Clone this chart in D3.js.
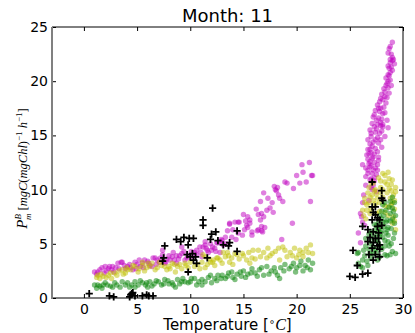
<!DOCTYPE html>
<html>
<head>
<meta charset="utf-8">
<script src="https://cdn.jsdelivr.net/npm/d3@7"></script>
<style>
  body { margin: 0; background: #fff; }
  text { font-family: "DejaVu Sans", sans-serif; }
</style>
</head>
<body>
<svg id="chart"></svg>
<script>
//chart values: [temperature, P_m^B]
const titleText = "Month: 11";
const xTicks = [0, 5, 10, 15, 20, 25, 30];
const yTicks = [0, 5, 10, 15, 20, 25];

const magenta = [
  [1.0,2.4],[1.3,2.4],[1.5,2.6],[1.7,2.8],[2.0,2.9],[2.1,2.5],[2.3,2.7],[2.6,2.6],[2.7,2.9],[3.0,2.8],
  [3.2,3.2],[3.5,3.3],[3.6,3.3],[3.8,3.0],[4.1,2.9],[4.3,3.1],[4.6,2.6],[4.8,3.3],[5.0,3.1],[5.3,2.9],
  [5.5,3.2],[5.7,3.5],[6.0,3.4],[6.2,3.0],[6.5,3.7],[6.7,3.7],[6.8,3.1],[7.1,3.3],[7.4,4.0],[7.4,4.4],
  [7.6,3.2],[7.8,3.6],[8.0,3.9],[8.3,3.8],[8.4,4.2],[8.7,3.2],[8.7,3.9],[8.9,3.6],[9.2,4.1],[9.2,4.7],
  [9.5,3.5],[9.8,3.9],[10.1,4.3],[10.4,4.2],[10.6,4.0],[10.9,4.7],[11.1,3.8],[11.2,4.7],[11.4,4.9],[11.4,5.2],
  [11.6,4.4],[11.7,4.2],[12.0,4.4],[12.1,4.7],[12.3,4.6],[12.5,5.1],[12.6,5.1],[12.8,4.2],[12.8,5.2],[12.9,5.4],
  [13.1,4.9],[13.3,5.6],[13.5,6.2],[13.7,6.8],[13.7,6.9],[13.9,5.6],[14.2,7.0],[14.5,7.0],[14.5,6.0],[14.6,7.0],
  [14.9,5.8],[15.0,7.7],[15.3,6.7],[15.4,7.5],[15.4,6.5],[15.6,7.2],[15.6,6.9],[15.8,6.1],[15.8,5.8],[16.2,8.2],
  [16.3,6.2],[16.4,7.7],[16.4,6.3],[16.6,8.9],[16.6,7.2],[16.7,6.6],[16.7,6.2],[16.7,7.8],[16.8,6.1],[16.9,9.7],
  [16.9,7.5],[17.0,6.5],[17.2,8.1],[17.3,9.2],[17.5,8.3],[17.7,8.8],[17.8,7.9],[17.9,10.3],[18.0,10.0],[18.1,9.9],
  [18.2,10.2],[18.3,9.5],[18.4,9.2],[18.6,5.4],[18.7,8.9],[18.9,10.7],[19.1,10.6],[19.6,6.9],[19.7,10.1],[20.0,11.3],
  [20.3,10.6],[20.5,12.3],[20.6,11.6],[20.9,10.7],[21.2,12.5],[21.3,8.9],[21.4,11.3],[21.5,11.3],
  [1.2,2.2],[1.9,2.3],[2.4,2.9],[2.8,2.4],[3.3,2.7],[3.9,2.7],[4.4,2.8],[4.9,2.7],[5.2,3.5],[5.6,2.8],
  [6.1,3.2],[6.4,2.9],[6.9,3.5],[7.2,3.7],[7.7,3.3],[8.1,3.5],[8.5,3.5],[9.0,3.9],[9.4,4.3],[9.7,3.7],
  [10.2,3.8],[10.6,4.4],[11.0,4.2],[11.5,4.6],[11.9,5.0],[12.4,4.3],[13.0,5.3],[13.4,5.0],[14.0,6.3],[14.3,5.4],
  [15.1,6.3],[15.2,7.1],
  [26.0,5.1],[25.8,6.0],[26.4,6.7],[26.2,7.0],[26.1,7.5],[26.0,7.8],[26.2,8.8],[26.9,10.9],[27.2,10.4],[27.1,10.0],
  [27.5,9.8],[26.7,11.5],[27.1,11.5],[27.6,11.8],[27.3,11.1],[26.7,11.8],[26.2,12.3],[26.9,12.1],[27.6,12.3],[27.2,13.0],
  [26.7,12.8],[26.7,13.7],[27.1,12.9],[27.7,12.7],[26.6,13.2],[26.9,13.7],[27.6,13.5],[27.2,14.4],[26.7,14.6],[27.7,14.3],
  [28.0,13.9],[26.9,15.5],[27.4,15.3],[27.8,15.2],[28.3,14.9],[27.1,16.1],[27.6,16.0],[28.1,15.8],[28.6,15.7],[27.2,16.7],
  [27.7,16.6],[28.5,16.4],[27.4,17.3],[27.8,17.2],[28.3,17.1],[27.6,17.8],[27.8,18.1],[28.1,18.3],[28.5,18.5],[28.3,19.0],
  [28.6,19.4],[28.5,19.8],[28.8,20.1],[28.6,20.6],[29.0,21.0],[28.8,21.7],[29.1,22.0],[29.0,22.2],[28.6,22.6],[28.8,23.2],
  [29.0,23.6],[27.0,10.2],[27.3,10.8],[27.5,11.4],[26.8,12.4],[27.4,12.0],[27.0,13.4],[27.4,13.8],[27.6,14.8],[27.0,14.9],
  [27.9,15.9],[28.0,16.5],[27.9,17.5],[28.2,17.6],[28.4,18.0],[28.0,18.8],[28.7,18.9],[28.9,19.6],[28.7,20.5],[28.9,21.3],
  [28.7,21.2],[29.2,21.6],[28.9,22.5],
  [26.3,9.5],[26.5,10.4],[26.8,9.0],[27.0,11.0],[26.5,11.2],[27.2,11.8],[26.9,12.6],[27.3,12.5],[27.0,12.2],[26.5,12.0],
  [27.3,13.3],[26.8,13.3],[27.1,14.0],[27.4,14.6],[26.9,14.2],[27.3,15.8],[27.0,15.2],[27.5,15.6],[28.0,15.4],[27.5,16.4],
  [27.9,16.2],[27.3,16.9],[27.7,17.5],[28.1,17.0],[27.9,18.4],[28.3,18.6],[28.2,19.3],[28.4,19.6],[28.6,20.0],[28.4,20.3],
  [28.8,20.8],[28.6,21.4],[29.0,21.9],[28.8,22.0],[28.7,23.0],[27.7,13.0],[27.9,14.6],[28.1,16.0]
];

const yellow = [
  [1.2,1.9],[1.3,2.1],[1.5,1.8],[1.8,2.0],[2.3,2.1],[2.6,1.8],[2.9,2.3],[3.6,2.6],[3.9,2.3],[4.0,2.8],
  [4.1,2.6],[4.8,2.9],[5.1,2.4],[5.5,3.0],[5.5,3.3],[5.9,2.8],[6.0,3.2],[6.4,3.2],[6.7,2.6],[7.3,3.0],
  [7.8,2.6],[8.0,2.9],[8.3,3.2],[8.6,2.4],[8.8,2.9],[9.0,3.1],[9.5,3.2],[9.8,2.8],[10.4,2.9],[11.1,3.3],
  [11.2,4.0],[11.4,2.8],[11.4,3.8],[11.6,3.1],[11.9,3.3],[12.1,3.3],[12.3,3.0],[12.5,3.7],[12.6,3.7],[12.8,3.5],
  [13.1,4.2],[13.3,3.8],[13.5,4.2],[13.7,3.3],[13.9,3.7],[14.0,3.1],[14.2,4.1],[14.4,4.0],[14.9,4.1],[15.3,3.5],
  [15.6,3.2],[15.8,3.7],[15.9,4.4],[16.4,4.4],[16.6,3.8],[17.2,3.7],[17.3,4.6],[17.7,4.1],[18.3,4.6],[18.4,3.5],
  [18.7,4.7],[19.1,3.8],[19.4,4.2],[19.8,4.6],[20.0,3.7],[20.3,4.4],[20.6,3.8],[20.6,4.2],[21.1,4.2],[21.3,4.9],
  [21.5,4.1],
  [1.6,2.2],[2.1,1.9],[2.5,2.3],[3.1,2.1],[3.3,2.5],[3.7,2.2],[4.4,2.6],[4.6,3.0],[5.2,2.7],[5.7,2.5],
  [6.2,2.9],[6.9,2.8],[7.1,3.3],[7.6,2.9],[8.1,2.7],[8.5,3.1],[9.2,2.7],[9.6,3.0],[10.0,3.3],[10.7,3.1],
  [10.9,2.7],[11.8,3.6],[12.2,3.5],[13.0,3.2],[13.6,3.9],[14.6,3.6],[15.0,3.9],[15.5,4.2],[16.1,3.6],[16.9,4.2],
  [17.5,3.9],[18.0,4.3],[18.9,4.4],[19.6,3.9],[20.2,4.0],[20.9,4.6],
  [26.2,8.1],[26.4,8.8],[26.7,9.7],[26.9,7.8],[27.2,9.0],[27.2,10.6],[27.7,11.1],[28.3,11.3],[28.6,11.6],[29.0,10.9],
  [29.3,10.2],[28.1,9.3],[28.8,9.2],[28.6,8.4],[29.0,6.9],[29.3,6.3],[29.1,7.5],[29.2,8.2],[28.9,9.9],[28.5,10.5],
  [27.9,10.2],[27.5,9.6],[26.6,8.6],[26.9,9.3],[27.0,8.2],[27.8,8.8],[26.5,7.3],[28.3,7.9],[29.0,8.8],[28.7,10.1],
  [27.4,10.0],[26.8,10.2],
  [26.3,7.6],[26.6,8.1],[26.8,8.8],[27.1,9.5],[27.4,8.7],[27.6,9.2],[27.9,9.7],[28.1,10.0],[28.3,10.7],[28.5,9.7],
  [28.7,11.0],[28.9,10.5],[29.1,9.5],[29.2,9.0],[28.9,8.6],[28.6,7.6],[28.3,8.5],[27.8,8.0],[27.5,7.8],[27.3,9.9],
  [27.0,10.6],[26.4,9.2],[27.9,10.8],[28.1,11.5],[29.3,9.8],[29.2,7.1]
];

const green = [
  [1.0,1.2],[1.3,1.2],[1.7,0.9],[1.8,1.2],[2.0,1.4],[2.5,1.1],[2.9,1.4],[3.4,1.0],[3.6,1.5],[4.1,1.4],
  [4.5,1.2],[4.8,1.5],[4.8,1.0],[5.5,1.4],[5.8,1.2],[6.0,1.0],[6.2,1.5],[6.6,1.3],[7.0,1.5],[7.3,1.2],
  [7.6,1.7],[8.0,1.3],[8.3,1.4],[8.6,1.0],[8.8,1.7],[9.2,1.5],[9.5,1.5],[9.8,1.4],[10.1,1.8],[10.4,1.8],
  [10.8,1.5],[11.1,1.7],[11.1,1.2],[11.7,1.9],[12.0,1.4],[12.3,1.8],[12.6,2.1],[13.0,2.1],[13.3,1.8],[13.6,2.3],
  [14.0,1.9],[14.4,2.2],[14.8,2.0],[15.0,2.5],[15.4,2.2],[15.8,2.7],[16.1,2.3],[16.5,2.6],[16.9,2.1],[17.2,2.9],
  [17.6,2.5],[18.0,2.4],[18.4,1.8],[18.5,2.8],[18.9,3.1],[19.3,2.7],[19.7,3.2],[20.0,2.8],[20.4,3.4],[20.6,2.5],
  [20.8,3.0],[21.1,3.5],[21.3,2.6],[21.5,3.2],
  [1.2,0.9],[1.5,1.1],[2.2,1.2],[2.7,1.0],[3.1,1.2],[3.9,1.2],[4.3,1.0],[5.1,1.2],[5.3,1.6],[5.9,1.4],
  [6.4,1.1],[6.8,1.6],[7.5,1.3],[7.9,1.6],[8.4,1.2],[9.0,1.3],[9.3,1.8],[10.0,1.5],[10.6,1.2],[11.4,1.5],
  [11.9,2.1],[12.5,1.6],[12.9,1.8],[13.5,2.0],[13.9,2.4],[14.2,1.7],[14.7,2.4],[15.2,1.9],[15.7,2.3],[16.3,2.0],
  [16.7,2.8],[17.4,2.2],[17.9,2.8],[18.2,2.1],[18.8,2.5],[19.5,2.9],[19.9,2.4],[20.3,3.0],[21.0,2.8],
  [25.7,4.1],[25.8,4.2],[25.8,3.2],[26.0,2.9],[26.2,2.8],[26.2,3.5],[26.7,3.0],[26.5,4.8],[26.8,5.9],[27.0,5.0],
  [27.3,6.8],[27.6,3.5],[27.8,3.8],[28.0,4.5],[28.3,4.0],[28.5,3.9],[28.8,4.0],[29.0,4.3],[29.3,4.1],[27.6,5.3],
  [27.9,6.0],[28.2,6.6],[28.5,7.2],[28.8,7.8],[29.0,8.3],[29.2,8.8],[28.4,8.1],[28.0,7.3],[27.7,7.0],[27.4,6.3],
  [27.1,5.6],[26.8,4.5],[28.6,5.8],[28.9,6.4],[29.2,6.9],[28.3,5.3],[27.9,4.7],[28.7,4.8],[29.1,5.5],[28.1,8.6],
  [27.5,4.2],[26.5,5.5],[27.2,4.1],[28.4,6.0],[29.3,7.6],
  [27.0,6.1],[27.3,5.3],[27.5,5.8],[27.7,6.3],[27.9,6.6],[28.1,7.0],[28.2,7.6],[28.4,7.0],[28.6,6.5],[28.8,7.1],
  [29.0,7.3],[29.1,8.0],[28.7,8.4],[28.3,8.8],[28.0,8.0],[27.8,7.6],[27.5,6.7],[27.2,4.7],[27.4,4.5],[27.7,5.0],
  [28.1,5.6],[28.3,4.8],[28.6,5.2],[28.9,5.0],[29.2,6.0],[28.0,6.2],[28.5,6.3],[27.8,5.7],[26.9,4.1],[26.4,3.9],
  [26.6,3.4],[26.3,4.4],[27.0,3.7],[28.8,8.9],[29.0,9.3]
];

const observed = [
  [0.5,0.4],[2.4,0.2],[2.8,0.1],[4.4,0.3],[4.5,0.4],[4.6,0.5],[4.8,0.2],[4.3,0.1],[5.5,0.2],[5.9,0.3],
  [6.1,0.2],[6.5,0.2],
  [7.4,3.4],[7.5,3.7],[7.6,4.8],[8.7,5.4],[9.1,5.2],[9.4,5.6],[9.8,4.9],[9.9,5.5],[10.3,5.5],[9.7,4.0],
  [10.0,3.8],[10.3,3.5],[10.5,3.8],[10.6,3.2],[10.2,4.1],[9.8,2.4],[11.6,3.7],[11.2,7.2],[11.2,6.7],[12.1,8.3],
  [12.0,5.9],[12.4,6.1],[11.9,5.4],[12.6,5.3],[13.1,4.9],[13.7,5.1],[13.6,4.8],[14.4,6.2],[14.4,4.3],
  [27.1,10.7],[28.0,9.9],[28.0,9.2],[28.1,9.0],[27.1,8.4],[27.4,8.4],[27.2,7.9],[27.4,7.7],[27.6,7.4],[27.1,7.2],
  [27.8,7.2],[28.0,6.7],[27.6,6.6],[26.2,6.6],[26.7,6.3],[27.2,6.1],[27.7,6.0],[26.9,5.6],[27.4,5.5],[27.7,5.5],
  [26.7,5.2],[27.2,5.1],[27.6,4.8],[27.8,4.9],[27.8,4.5],[27.1,4.6],[26.8,4.0],[27.4,4.0],[27.8,3.8],[27.2,3.5],
  [25.3,4.4],[25.7,3.0],[25.0,2.0],[25.5,1.9],[26.2,2.2],[26.7,2.3]
];

//set up SVG dimensions
const width = 415, height = 333;
const margin = { top: 27, right: 12, bottom: 35, left: 52 };

const svg = d3.select("#chart")
    .attr("width", width)
    .attr("height", height);

const x = d3.scaleLinear().domain([-3, 30]).range([margin.left, width - margin.right]);
const y = d3.scaleLinear().domain([0, 25]).range([height - margin.bottom, margin.top]);

//scatter series, drawn in the same order as the original
const series = [
    { data: magenta, color: "#bf00bf" },
    { data: yellow, color: "#bfbf00" },
    { data: green, color: "#008000" }
];

const plot = svg.append("g");
series.forEach(s => {
    plot.append("g")
        .selectAll("circle")
        .data(s.data)
        .join("circle")
        .attr("cx", d => x(d[0]))
        .attr("cy", d => y(d[1]))
        .attr("r", 2.7)
        .attr("fill", s.color)
        .attr("fill-opacity", 0.5);
});

//black plus markers
plot.append("g")
    .selectAll("path")
    .data(observed)
    .join("path")
    .attr("d", d => {
        const px = x(d[0]), py = y(d[1]), h = 3.6;
        return `M${px - h},${py}H${px + h}M${px},${py - h}V${py + h}`;
    })
    .attr("stroke", "#000")
    .attr("stroke-width", 1.8)
    .attr("fill", "none");

//axes, ticks pointing inwards on all sides
const tickLen = 4;
const xAxis = svg.append("g")
    .attr("transform", `translate(0,${height - margin.bottom})`)
    .call(d3.axisBottom(x).tickValues(xTicks).tickSize(-tickLen).tickPadding(6));
const xTop = svg.append("g")
    .attr("transform", `translate(0,${margin.top})`)
    .call(d3.axisTop(x).tickValues(xTicks).tickSize(-tickLen).tickFormat(""));
const yAxis = svg.append("g")
    .attr("transform", `translate(${margin.left},0)`)
    .call(d3.axisLeft(y).tickValues(yTicks).tickSize(-tickLen).tickPadding(4));
const yRight = svg.append("g")
    .attr("transform", `translate(${width - margin.right},0)`)
    .call(d3.axisRight(y).tickValues(yTicks).tickSize(-tickLen).tickFormat(""));

[xAxis, xTop, yAxis, yRight].forEach(a => {
    a.select(".domain").remove();
    a.selectAll(".tick line").attr("stroke", "#000");
    a.selectAll(".tick text")
        .attr("fill", "#000")
        .style("font-family", "DejaVu Sans")
        .style("font-size", "14px");
});

//frame: left spine gray and thicker
svg.append("line")
    .attr("x1", margin.left).attr("x2", width - margin.right)
    .attr("y1", margin.top).attr("y2", margin.top)
    .attr("stroke", "#000");
svg.append("line")
    .attr("x1", width - margin.right).attr("x2", width - margin.right)
    .attr("y1", margin.top).attr("y2", height - margin.bottom)
    .attr("stroke", "#000");
svg.append("line")
    .attr("x1", margin.left).attr("x2", width - margin.right)
    .attr("y1", height - margin.bottom).attr("y2", height - margin.bottom)
    .attr("stroke", "#000");
svg.append("line")
    .attr("x1", margin.left).attr("x2", margin.left)
    .attr("y1", margin.top).attr("y2", height - margin.bottom + 1)
    .attr("stroke", "#808080")
    .attr("stroke-width", 2);

//title
const cx = (margin.left + width - margin.right) / 2;
svg.append("text")
    .attr("x", cx)
    .attr("y", 22)
    .attr("text-anchor", "middle")
    .style("font-size", "18px")
    .text(titleText);

//x label with math part
const xl = svg.append("text")
    .attr("x", cx)
    .attr("y", 330)
    .attr("text-anchor", "middle")
    .style("font-size", "15px");
xl.append("tspan").text("Temperature [");
xl.append("tspan").attr("dy", -5).style("font-size", "10px").text("∘");
xl.append("tspan").attr("dy", 5).style("font-family", "Liberation Serif").style("font-style", "italic").style("font-size", "16px").text("C");
xl.append("tspan").text("]");

//y label, rotated
const yl = svg.append("text")
    .attr("transform", `translate(27,${(margin.top + height - margin.bottom) / 2 + 6}) rotate(-90)`)
    .attr("text-anchor", "middle")
    .style("font-family", "Liberation Serif")
    .style("font-style", "italic")
    .style("font-size", "12.5px");
yl.append("tspan").style("font-size", "15px").text("P");
yl.append("tspan").attr("dy", -6).style("font-size", "9px").text("B");
yl.append("tspan").attr("dx", -6).attr("dy", 10).style("font-size", "9px").text("m");
yl.append("tspan").attr("dy", -4).style("font-style", "normal").text(" [");
yl.append("tspan").text("mgC");
yl.append("tspan").style("font-style", "normal").text("(");
yl.append("tspan").text("mgChl");
yl.append("tspan").style("font-style", "normal").text(")");
yl.append("tspan").attr("dy", -5).style("font-size", "9px").style("font-style", "normal").text("−1");
yl.append("tspan").attr("dy", 5).text(" h");
yl.append("tspan").attr("dy", -5).style("font-size", "9px").style("font-style", "normal").text("−1");
yl.append("tspan").attr("dy", 5).style("font-style", "normal").text("]");
</script>
</body>
</html>
